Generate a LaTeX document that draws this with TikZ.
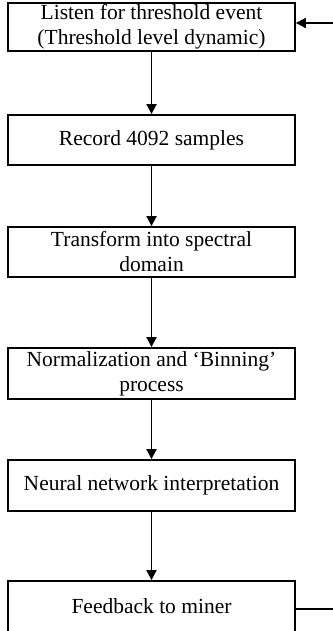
\documentclass[tikz,border=0pt]{standalone}
\usepackage{fontspec}
\setmainfont{Liberation Serif}
\usetikzlibrary{arrows.meta}
\begin{document}
\begin{tikzpicture}[x=1pt,y=-1pt,
  stepbox/.style={draw,line width=1.8pt,minimum width=287pt,inner sep=0pt,
    align=center,font=\fontsize{21.5}{25}\selectfont},
  flow/.style={line width=1.8pt,-{Triangle[length=10pt,width=10pt]}}]
\useasboundingbox (0,0) rectangle (332,631);
\node[stepbox,minimum height=48pt] (b1) at (151.5,27) {Listen for threshold event\\(Threshold level dynamic)};
\node[stepbox,minimum height=50pt] (b2) at (151.5,140) {Record 4092 samples};
\node[stepbox,minimum height=50pt] (b3) at (151.5,252) {Transform into spectral\\domain};
\node[stepbox,minimum height=51pt] (b4) at (151.5,373.5) {Normalization and `Binning'\\process};
\node[stepbox,minimum height=51pt] (b5) at (151.5,485.5) {Neural network interpretation};
\node[stepbox,minimum height=51pt] (b6) at (151.5,606.5) {Feedback to miner};
\coordinate (inR) at (334,23);
\coordinate (outR) at (334,609);
\draw[flow] (b1.south) -- (b2.north);
\draw[flow] (b2.south) -- (b3.north);
\draw[flow] (b3.south) -- (b4.north);
\draw[flow] (b4.south) -- (b5.north);
\draw[flow] (b5.south) -- (b6.north);
\draw[flow] (inR) -- (inR -| b1.east);
\draw[line width=1.8pt] (b6.east |- outR) -- (outR);
\end{tikzpicture}
\end{document}
